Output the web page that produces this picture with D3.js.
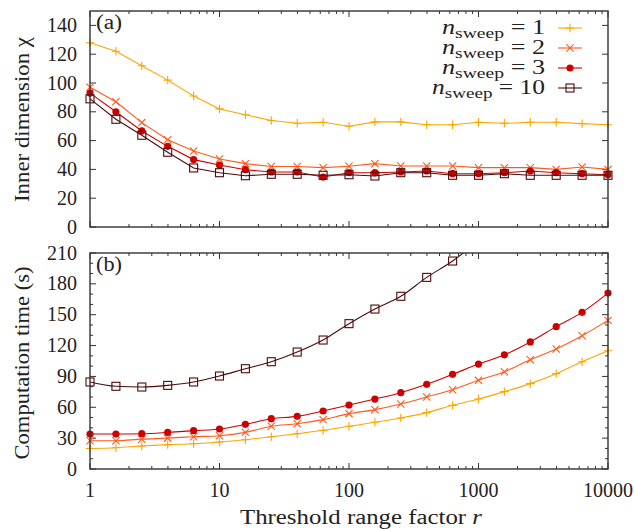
<!DOCTYPE html>
<html>
<head>
<meta charset="utf-8">
<script src="https://cdn.jsdelivr.net/npm/d3@7"></script>
<style>
  body { margin: 0; background: #fff; }
  svg text { font-family: "Liberation Serif", "Times New Roman", Tinos, "Noto Serif", FreeSerif, "Nimbus Roman", "DejaVu Serif", serif; }
</style>
</head>
<body>
<div id="chart"></div>
<script>
// threshold range factor r, 5 points per decade
const rValues = [1, 1.585, 2.512, 3.981, 6.31, 10, 15.85, 25.12, 39.81, 63.1, 100,
    158.5, 251.2, 398.1, 631, 1000, 1585, 2512, 3981, 6310, 10000];

const sweeps = ["1", "2", "3", "10"];
const colors = ["#ffa500", "#ff5a1a", "#cc0000", "#4d0a0a"];
const symbols = ["plus", "cross", "circle", "square"];

// panel (a): inner dimension chi
const chi1 = [128, 122, 112, 102, 91, 82, 78, 74, 72, 72.7, 70, 73, 73, 71, 71, 72.7, 72, 72.7, 72.7, 71.8, 71];
const chi2 = [97, 87, 72.5, 60.6, 52.8, 47.2, 44, 42, 42, 41.2, 42.2, 44, 42.4, 42.4, 42.4, 41.2, 41.2, 41.2, 40, 41.7, 40];
const chi3 = [93, 80, 66.7, 56, 46.8, 43, 39.8, 38.2, 38.2, 34.7, 37.7, 37.7, 38.2, 38.9, 37, 37, 37.7, 38.9, 37.7, 37, 36.3];
const chi10 = [89, 74.8, 63.7, 51.9, 41, 37.7, 35.6, 36.6, 36.6, 35.9, 36.3, 35.4, 37.7, 37.7, 35.9, 35.9, 37, 35.9, 35.9, 35.9, 35.9];

// panel (b): computation time (s)
const time1 = [20, 20.7, 22.4, 23.7, 24.6, 26.2, 28.5, 31.4, 34.3, 37.6, 41.5, 45.4, 49.6, 54.8, 61.9, 68, 75.2, 83, 92.7, 104.3, 115];
const time2 = [27.5, 27.5, 29, 30, 31.4, 32.4, 35.6, 41.5, 44, 48, 53.8, 57.7, 63.2, 70, 77.1, 86.2, 94.6, 106.3, 116.7, 129.6, 144.5];
const time3 = [34, 34, 34.3, 35.6, 37.3, 38.9, 43.4, 48.9, 51.2, 56.4, 62.2, 68, 74.2, 82.3, 92, 102, 111, 123.5, 138.4, 152.3, 171];
const time10 = [84.6, 80.4, 79.7, 81.3, 84.6, 90.4, 97.5, 104.3, 113.7, 125.4, 141.3, 155.5, 167.9, 186.3, 202.2, 222];

const chiTicks = [0, 20, 40, 60, 80, 100, 120, 140];
const timeTicks = [0, 30, 60, 90, 120, 150, 180, 210];
const xTicks = [1, 10, 100, 1000, 10000];

const W = 634, H = 529;
const left = 90, right = 608;
const fs = 20;

const svg = d3.select("#chart").append("svg")
    .attr("width", W)
    .attr("height", H);

const x = d3.scaleLog().domain([1, 10000]).range([left, right]);

const panels = [
    { label: "(a)", top: 11, bottom: 227, ymax: 150, ticks: chiTicks, minor: null,
      series: [chi1, chi2, chi3, chi10], curve: d3.curveLinear,
      title: "Inner dimension \u03c7", titleLen: 165, titleMid: 119.5 },
    { label: "(b)", top: 253, bottom: 469, ymax: 210, ticks: timeTicks, minor: 10,
      series: [time1, time2, time3, time10], curve: d3.curveMonotoneX,
      title: "Computation time (s)", titleLen: 193, titleMid: 363 }
];

function drawMarker(g, type, color, cx, cy) {
    const s = 4.2;
    if (type === "plus") {
        g.append("path").attr("d", `M${cx - s},${cy}H${cx + s}M${cx},${cy - s}V${cy + s}`)
            .attr("stroke", color).attr("stroke-width", 1.1).attr("fill", "none");
    } else if (type === "cross") {
        const c = 3.6;
        g.append("path").attr("d", `M${cx - c},${cy - c}L${cx + c},${cy + c}M${cx - c},${cy + c}L${cx + c},${cy - c}`)
            .attr("stroke", color).attr("stroke-width", 1.1).attr("fill", "none");
    } else if (type === "circle") {
        g.append("circle").attr("cx", cx).attr("cy", cy).attr("r", 3.6).attr("fill", color);
    } else {
        g.append("rect").attr("x", cx - 4).attr("y", cy - 4).attr("width", 8).attr("height", 8)
            .attr("fill", "none").attr("stroke", color).attr("stroke-width", 1.1);
    }
}

panels.forEach((p, pi) => {
    const y = d3.scaleLinear().domain([0, p.ymax]).range([p.bottom, p.top]);
    const g = svg.append("g");

    const clipId = "clip" + pi;
    svg.append("clipPath").attr("id", clipId)
        .append("rect").attr("x", left - 6).attr("y", p.top)
        .attr("width", right - left + 12).attr("height", p.bottom - p.top + 6);

    // y ticks, mirrored on the right
    const tl = 6;
    if (p.minor) {
        d3.range(0, p.ymax + 1, p.minor).filter(v => p.ticks.indexOf(v) < 0).forEach(v => {
            g.append("path").attr("d", `M${left},${y(v)}h${tl / 2}M${right},${y(v)}h${-tl / 2}`)
                .attr("stroke", "#333").attr("stroke-width", 1);
        });
    }
    p.ticks.forEach(v => {
        g.append("path").attr("d", `M${left},${y(v)}h${tl}M${right},${y(v)}h${-tl}`)
            .attr("stroke", "#333").attr("stroke-width", 1);
        g.append("text").attr("x", left - 13).attr("y", y(v) + 6.5)
            .attr("text-anchor", "end").attr("font-size", fs).attr("fill", "#222").text(v);
    });

    // x ticks, log minor ticks too
    const minorX = [];
    for (let d = 1; d < 10000; d *= 10) for (let k = 2; k < 10; k++) minorX.push(d * k);
    minorX.forEach(v => {
        g.append("path").attr("d", `M${x(v)},${p.bottom}v${-tl / 2}M${x(v)},${p.top}v${tl / 2}`)
            .attr("stroke", "#333").attr("stroke-width", 1);
    });
    xTicks.forEach(v => {
        g.append("path").attr("d", `M${x(v)},${p.bottom}v${-tl}M${x(v)},${p.top}v${tl}`)
            .attr("stroke", "#333").attr("stroke-width", 1);
    });

    // data
    const dg = g.append("g").attr("clip-path", `url(#${clipId})`);
    p.series.forEach((vals, si) => {
        const pts = vals.map((v, i) => [rValues[i], v]);
        const line = d3.line().x(d => x(d[0])).y(d => y(d[1])).curve(p.curve);
        dg.append("path").attr("d", line(pts))
            .attr("fill", "none").attr("stroke", colors[si]).attr("stroke-width", 1.1);
        pts.forEach(d => drawMarker(dg, symbols[si], colors[si], x(d[0]), y(d[1])));
    });

    // frame
    g.append("rect").attr("x", left).attr("y", p.top)
        .attr("width", right - left).attr("height", p.bottom - p.top)
        .attr("fill", "none").attr("stroke", "#333").attr("stroke-width", 1.4);

    g.append("text").attr("x", left + 6).attr("y", p.top + 18)
        .attr("font-size", fs).attr("fill", "#222")
        .attr("textLength", 26).attr("lengthAdjust", "spacingAndGlyphs").text(p.label);

    g.append("text")
        .attr("transform", `translate(29,${p.titleMid}) rotate(-90)`)
        .attr("x", -p.titleLen / 2)
        .attr("font-size", fs).attr("fill", "#222")
        .attr("textLength", p.titleLen).attr("lengthAdjust", "spacingAndGlyphs")
        .text(p.title);
});

// x tick labels and title under panel b
xTicks.forEach(v => {
    svg.append("text").attr("x", x(v)).attr("y", 497)
        .attr("text-anchor", "middle").attr("font-size", fs).attr("fill", "#222").text(v);
});
const xt = svg.append("text").attr("x", 240).attr("y", 524)
    .attr("font-size", fs).attr("fill", "#222")
    .attr("textLength", 242).attr("lengthAdjust", "spacingAndGlyphs");
xt.append("tspan").text("Threshold range factor ");
xt.append("tspan").attr("font-style", "italic").text("r");

// legend
const legendLen = [103, 103, 103, 113];
const lg = svg.append("g");
sweeps.forEach((s, i) => {
    const ly = 28 + i * 20;
    const t = lg.append("text").attr("x", 545 - legendLen[i]).attr("y", ly + 6)
        .attr("font-size", fs).attr("fill", "#222")
        .attr("textLength", legendLen[i]).attr("lengthAdjust", "spacingAndGlyphs");
    t.append("tspan").attr("font-style", "italic").text("n");
    t.append("tspan").attr("font-size", 15).attr("dy", 4).text("sweep");
    t.append("tspan").attr("dy", -4).text(" = " + s);
    lg.append("path").attr("d", `M558,${ly}H582`)
        .attr("stroke", colors[i]).attr("stroke-width", 1.1);
    drawMarker(lg, symbols[i], colors[i], 570, ly);
});
</script>
</body>
</html>
